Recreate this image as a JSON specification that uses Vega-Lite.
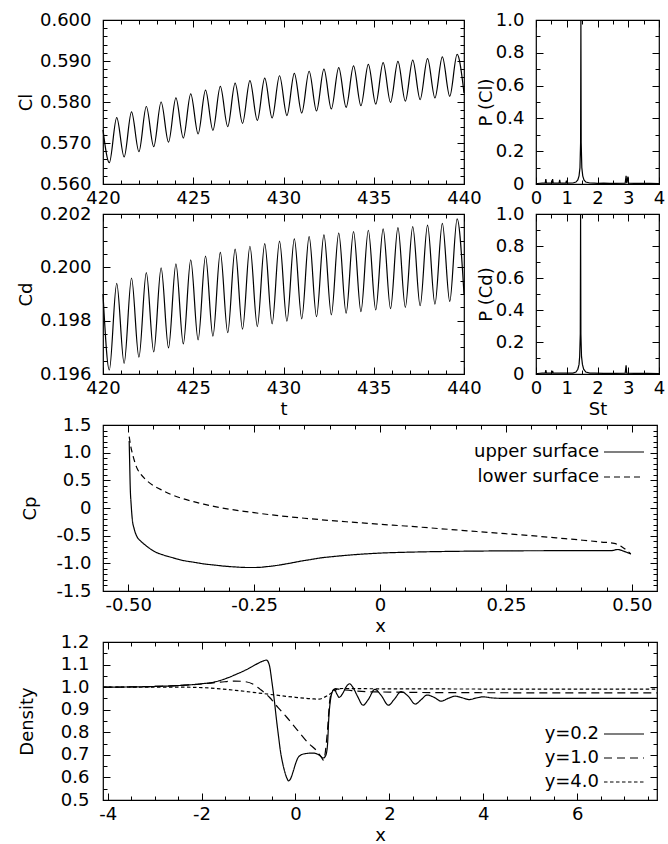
{
  "$schema": "https://vega.github.io/schema/vega-lite/v6.json",
  "padding": {"left": 16, "top": 10, "right": 0, "bottom": 0},
  "config": {
    "font": "DejaVu Sans",
    "view": {"stroke": "black", "strokeWidth": 1.2},
    "axis": {"domain": false, "grid": false, "labelFont": "DejaVu Sans", "labelFontSize": 18, "titleFont": "DejaVu Sans", "titleFontSize": 18, "titleFontWeight": "normal", "labelColor": "black", "titleColor": "black", "tickColor": "black", "tickWidth": 1, "labelFlush": false, "labelOverlap": false},
    "legend": {"labelFont": "DejaVu Sans", "labelFontSize": 18, "labelColor": "black"}
  },
  "resolve": {"scale": {"strokeDash": "independent"}, "legend": {"strokeDash": "independent"}},
  "spacing": -4,
  "datasets": {
    "cl": [
      {"t": 420.0, "v": 0.5732}, {"t": 420.35, "v": 0.5652}, {"t": 420.76, "v": 0.5762}, {"t": 421.17, "v": 0.5666},
      {"t": 421.58, "v": 0.5776}, {"t": 421.99, "v": 0.5679}, {"t": 422.40, "v": 0.5789}, {"t": 422.81, "v": 0.5691},
      {"t": 423.22, "v": 0.5800}, {"t": 423.63, "v": 0.5702}, {"t": 424.04, "v": 0.5810}, {"t": 424.45, "v": 0.5712},
      {"t": 424.86, "v": 0.5820}, {"t": 425.27, "v": 0.5722}, {"t": 425.68, "v": 0.5829}, {"t": 426.09, "v": 0.5731},
      {"t": 426.50, "v": 0.5838}, {"t": 426.91, "v": 0.5740}, {"t": 427.32, "v": 0.5846}, {"t": 427.73, "v": 0.5748},
      {"t": 428.14, "v": 0.5852}, {"t": 428.55, "v": 0.5755}, {"t": 428.96, "v": 0.5858}, {"t": 429.37, "v": 0.5761},
      {"t": 429.78, "v": 0.5864}, {"t": 430.19, "v": 0.5767}, {"t": 430.60, "v": 0.5870}, {"t": 431.01, "v": 0.5773},
      {"t": 431.42, "v": 0.5875}, {"t": 431.83, "v": 0.5778}, {"t": 432.24, "v": 0.5880}, {"t": 432.65, "v": 0.5783},
      {"t": 433.06, "v": 0.5884}, {"t": 433.47, "v": 0.5787}, {"t": 433.88, "v": 0.5888}, {"t": 434.29, "v": 0.5791},
      {"t": 434.70, "v": 0.5892}, {"t": 435.11, "v": 0.5795}, {"t": 435.52, "v": 0.5896}, {"t": 435.93, "v": 0.5799},
      {"t": 436.34, "v": 0.5899}, {"t": 436.75, "v": 0.5802}, {"t": 437.16, "v": 0.5902}, {"t": 437.57, "v": 0.5806},
      {"t": 437.98, "v": 0.5906}, {"t": 438.39, "v": 0.5810}, {"t": 438.80, "v": 0.5910}, {"t": 439.21, "v": 0.5814},
      {"t": 439.62, "v": 0.5916}, {"t": 440.0, "v": 0.5822}
    ],
    "cd": [
      {"t": 420.0, "v": 0.1990}, {"t": 420.35, "v": 0.19615}, {"t": 420.76, "v": 0.1994}, {"t": 421.17, "v": 0.1964},
      {"t": 421.58, "v": 0.1996}, {"t": 421.99, "v": 0.19663}, {"t": 422.40, "v": 0.1998}, {"t": 422.81, "v": 0.19683},
      {"t": 423.22, "v": 0.19998}, {"t": 423.63, "v": 0.19698}, {"t": 424.04, "v": 0.20013}, {"t": 424.45, "v": 0.19713},
      {"t": 424.86, "v": 0.20028}, {"t": 425.27, "v": 0.19728}, {"t": 425.68, "v": 0.20042}, {"t": 426.09, "v": 0.19742},
      {"t": 426.50, "v": 0.20056}, {"t": 426.91, "v": 0.19755}, {"t": 427.32, "v": 0.20068}, {"t": 427.73, "v": 0.19768},
      {"t": 428.14, "v": 0.20079}, {"t": 428.55, "v": 0.19778}, {"t": 428.96, "v": 0.20089}, {"t": 429.37, "v": 0.19788},
      {"t": 429.78, "v": 0.20098}, {"t": 430.19, "v": 0.19798}, {"t": 430.60, "v": 0.20107}, {"t": 431.01, "v": 0.19807},
      {"t": 431.42, "v": 0.20115}, {"t": 431.83, "v": 0.19815}, {"t": 432.24, "v": 0.20122}, {"t": 432.65, "v": 0.19822},
      {"t": 433.06, "v": 0.20128}, {"t": 433.47, "v": 0.19828}, {"t": 433.88, "v": 0.20134}, {"t": 434.29, "v": 0.19834},
      {"t": 434.70, "v": 0.20139}, {"t": 435.11, "v": 0.19840}, {"t": 435.52, "v": 0.20144}, {"t": 435.93, "v": 0.19845},
      {"t": 436.34, "v": 0.20149}, {"t": 436.75, "v": 0.19850}, {"t": 437.16, "v": 0.20153}, {"t": 437.57, "v": 0.19856},
      {"t": 437.98, "v": 0.20158}, {"t": 438.39, "v": 0.19862}, {"t": 438.80, "v": 0.20165}, {"t": 439.21, "v": 0.19872},
      {"t": 439.62, "v": 0.20182}, {"t": 440.0, "v": 0.1990}
    ],
    "pcl": [
      {"st": 0.0, "p": 0.0}, {"st": 0.05, "p": 0.003}, {"st": 0.2, "p": 0.005}, {"st": 0.3, "p": 0.005},
      {"st": 0.32, "p": 0.03}, {"st": 0.34, "p": 0.005}, {"st": 0.52, "p": 0.005}, {"st": 0.54, "p": 0.03},
      {"st": 0.56, "p": 0.005}, {"st": 0.75, "p": 0.005}, {"st": 0.77, "p": 0.025}, {"st": 0.79, "p": 0.005},
      {"st": 0.97, "p": 0.005}, {"st": 0.99, "p": 0.02}, {"st": 1.01, "p": 0.005}, {"st": 1.2, "p": 0.006},
      {"st": 1.3, "p": 0.012}, {"st": 1.36, "p": 0.025}, {"st": 1.4, "p": 0.05}, {"st": 1.43, "p": 0.1},
      {"st": 1.45, "p": 0.25}, {"st": 1.46, "p": 1.0}, {"st": 1.47, "p": 0.25}, {"st": 1.49, "p": 0.1},
      {"st": 1.52, "p": 0.05}, {"st": 1.56, "p": 0.025}, {"st": 1.62, "p": 0.012}, {"st": 1.75, "p": 0.006},
      {"st": 1.9, "p": 0.005}, {"st": 2.0, "p": 0.004}, {"st": 2.2, "p": 0.005}, {"st": 2.4, "p": 0.004},
      {"st": 2.6, "p": 0.004}, {"st": 2.9, "p": 0.005}, {"st": 2.93, "p": 0.05}, {"st": 2.95, "p": 0.005},
      {"st": 2.99, "p": 0.045}, {"st": 3.01, "p": 0.005}, {"st": 3.2, "p": 0.004}, {"st": 3.5, "p": 0.004},
      {"st": 3.7, "p": 0.004}, {"st": 4.0, "p": 0.003}
    ],
    "pcd": [
      {"st": 0.0, "p": 0.0}, {"st": 0.05, "p": 0.003}, {"st": 0.2, "p": 0.005}, {"st": 0.3, "p": 0.005},
      {"st": 0.32, "p": 0.025}, {"st": 0.34, "p": 0.005}, {"st": 0.52, "p": 0.005}, {"st": 0.54, "p": 0.02},
      {"st": 0.56, "p": 0.005}, {"st": 0.97, "p": 0.005}, {"st": 1.2, "p": 0.006},
      {"st": 1.3, "p": 0.012}, {"st": 1.36, "p": 0.03}, {"st": 1.4, "p": 0.06}, {"st": 1.42, "p": 0.11},
      {"st": 1.44, "p": 0.25}, {"st": 1.45, "p": 1.0}, {"st": 1.46, "p": 0.25}, {"st": 1.48, "p": 0.11},
      {"st": 1.51, "p": 0.06}, {"st": 1.55, "p": 0.03}, {"st": 1.62, "p": 0.012}, {"st": 1.75, "p": 0.006},
      {"st": 1.9, "p": 0.005}, {"st": 2.2, "p": 0.004}, {"st": 2.6, "p": 0.004}, {"st": 2.9, "p": 0.005},
      {"st": 2.93, "p": 0.055}, {"st": 2.95, "p": 0.005}, {"st": 3.2, "p": 0.004}, {"st": 3.6, "p": 0.004},
      {"st": 4.0, "p": 0.003}
    ],
    "cp": [
      {"x": -0.498, "cp": 1.21, "surface": "upper surface"}, {"x": -0.497, "cp": 0.8, "surface": "upper surface"},
      {"x": -0.496, "cp": 0.4, "surface": "upper surface"}, {"x": -0.494, "cp": 0.05, "surface": "upper surface"},
      {"x": -0.492, "cp": -0.19, "surface": "upper surface"}, {"x": -0.488, "cp": -0.38, "surface": "upper surface"},
      {"x": -0.483, "cp": -0.51, "surface": "upper surface"}, {"x": -0.475, "cp": -0.6, "surface": "upper surface"},
      {"x": -0.466, "cp": -0.67, "surface": "upper surface"}, {"x": -0.449, "cp": -0.78, "surface": "upper surface"},
      {"x": -0.43, "cp": -0.85, "surface": "upper surface"}, {"x": -0.415, "cp": -0.89, "surface": "upper surface"},
      {"x": -0.39, "cp": -0.95, "surface": "upper surface"}, {"x": -0.37, "cp": -0.98, "surface": "upper surface"},
      {"x": -0.35, "cp": -1.01, "surface": "upper surface"}, {"x": -0.33, "cp": -1.03, "surface": "upper surface"},
      {"x": -0.31, "cp": -1.05, "surface": "upper surface"}, {"x": -0.288, "cp": -1.065, "surface": "upper surface"},
      {"x": -0.265, "cp": -1.075, "surface": "upper surface"}, {"x": -0.246, "cp": -1.075, "surface": "upper surface"},
      {"x": -0.225, "cp": -1.06, "surface": "upper surface"}, {"x": -0.203, "cp": -1.035, "surface": "upper surface"},
      {"x": -0.18, "cp": -1.0, "surface": "upper surface"}, {"x": -0.16, "cp": -0.965, "surface": "upper surface"},
      {"x": -0.14, "cp": -0.935, "surface": "upper surface"}, {"x": -0.12, "cp": -0.905, "surface": "upper surface"},
      {"x": -0.09, "cp": -0.875, "surface": "upper surface"}, {"x": -0.06, "cp": -0.85, "surface": "upper surface"},
      {"x": -0.03, "cp": -0.83, "surface": "upper surface"}, {"x": 0.0, "cp": -0.815, "surface": "upper surface"},
      {"x": 0.05, "cp": -0.8, "surface": "upper surface"}, {"x": 0.1, "cp": -0.79, "surface": "upper surface"},
      {"x": 0.15, "cp": -0.783, "surface": "upper surface"}, {"x": 0.2, "cp": -0.778, "surface": "upper surface"},
      {"x": 0.26, "cp": -0.774, "surface": "upper surface"}, {"x": 0.35, "cp": -0.772, "surface": "upper surface"},
      {"x": 0.43, "cp": -0.772, "surface": "upper surface"}, {"x": 0.46, "cp": -0.77, "surface": "upper surface"},
      {"x": 0.472, "cp": -0.75, "surface": "upper surface"}, {"x": 0.485, "cp": -0.785, "surface": "upper surface"},
      {"x": 0.498, "cp": -0.83, "surface": "upper surface"},
      {"x": -0.498, "cp": 1.29, "surface": "lower surface"}, {"x": -0.495, "cp": 1.12, "surface": "lower surface"},
      {"x": -0.49, "cp": 0.93, "surface": "lower surface"}, {"x": -0.483, "cp": 0.73, "surface": "lower surface"},
      {"x": -0.475, "cp": 0.61, "surface": "lower surface"}, {"x": -0.466, "cp": 0.52, "surface": "lower surface"},
      {"x": -0.449, "cp": 0.4, "surface": "lower surface"}, {"x": -0.43, "cp": 0.31, "surface": "lower surface"},
      {"x": -0.415, "cp": 0.245, "surface": "lower surface"}, {"x": -0.39, "cp": 0.165, "surface": "lower surface"},
      {"x": -0.37, "cp": 0.115, "surface": "lower surface"}, {"x": -0.35, "cp": 0.07, "surface": "lower surface"},
      {"x": -0.33, "cp": 0.03, "surface": "lower surface"}, {"x": -0.3, "cp": -0.02, "surface": "lower surface"},
      {"x": -0.27, "cp": -0.06, "surface": "lower surface"}, {"x": -0.25, "cp": -0.085, "surface": "lower surface"},
      {"x": -0.2, "cp": -0.14, "surface": "lower surface"}, {"x": -0.15, "cp": -0.185, "surface": "lower surface"},
      {"x": -0.1, "cp": -0.225, "surface": "lower surface"}, {"x": -0.05, "cp": -0.26, "surface": "lower surface"},
      {"x": 0.0, "cp": -0.295, "surface": "lower surface"}, {"x": 0.05, "cp": -0.325, "surface": "lower surface"},
      {"x": 0.1, "cp": -0.36, "surface": "lower surface"}, {"x": 0.15, "cp": -0.395, "surface": "lower surface"},
      {"x": 0.2, "cp": -0.43, "surface": "lower surface"}, {"x": 0.25, "cp": -0.465, "surface": "lower surface"},
      {"x": 0.3, "cp": -0.5, "surface": "lower surface"}, {"x": 0.35, "cp": -0.54, "surface": "lower surface"},
      {"x": 0.4, "cp": -0.58, "surface": "lower surface"}, {"x": 0.44, "cp": -0.615, "surface": "lower surface"},
      {"x": 0.465, "cp": -0.64, "surface": "lower surface"}, {"x": 0.48, "cp": -0.7, "surface": "lower surface"},
      {"x": 0.498, "cp": -0.83, "surface": "lower surface"}
    ],
    "dens": [
      {"x": -4.1, "d": 1.0, "s": "y=0.2"}, {"x": -3.5, "d": 1.001, "s": "y=0.2"}, {"x": -3.0, "d": 1.003, "s": "y=0.2"},
      {"x": -2.5, "d": 1.007, "s": "y=0.2"}, {"x": -2.0, "d": 1.015, "s": "y=0.2"}, {"x": -1.7, "d": 1.024, "s": "y=0.2"},
      {"x": -1.46, "d": 1.04, "s": "y=0.2"}, {"x": -1.25, "d": 1.058, "s": "y=0.2"}, {"x": -1.1, "d": 1.072, "s": "y=0.2"},
      {"x": -0.95, "d": 1.088, "s": "y=0.2"}, {"x": -0.82, "d": 1.103, "s": "y=0.2"}, {"x": -0.7, "d": 1.115, "s": "y=0.2"},
      {"x": -0.62, "d": 1.12, "s": "y=0.2"}, {"x": -0.56, "d": 1.1, "s": "y=0.2"}, {"x": -0.5, "d": 1.02, "s": "y=0.2"},
      {"x": -0.45, "d": 0.94, "s": "y=0.2"}, {"x": -0.41, "d": 0.865, "s": "y=0.2"}, {"x": -0.36, "d": 0.78, "s": "y=0.2"},
      {"x": -0.32, "d": 0.716, "s": "y=0.2"}, {"x": -0.27, "d": 0.66, "s": "y=0.2"}, {"x": -0.23, "d": 0.626, "s": "y=0.2"},
      {"x": -0.18, "d": 0.595, "s": "y=0.2"}, {"x": -0.15, "d": 0.585, "s": "y=0.2"}, {"x": -0.11, "d": 0.592, "s": "y=0.2"},
      {"x": -0.05, "d": 0.626, "s": "y=0.2"}, {"x": 0.0, "d": 0.66, "s": "y=0.2"}, {"x": 0.05, "d": 0.686, "s": "y=0.2"},
      {"x": 0.12, "d": 0.7, "s": "y=0.2"}, {"x": 0.2, "d": 0.705, "s": "y=0.2"}, {"x": 0.37, "d": 0.708, "s": "y=0.2"},
      {"x": 0.5, "d": 0.7, "s": "y=0.2"}, {"x": 0.59, "d": 0.686, "s": "y=0.2"}, {"x": 0.64, "d": 0.695, "s": "y=0.2"},
      {"x": 0.68, "d": 0.74, "s": "y=0.2"}, {"x": 0.71, "d": 0.865, "s": "y=0.2"}, {"x": 0.75, "d": 0.95, "s": "y=0.2"},
      {"x": 0.78, "d": 0.977, "s": "y=0.2"}, {"x": 0.83, "d": 0.99, "s": "y=0.2"}, {"x": 0.88, "d": 0.97, "s": "y=0.2"},
      {"x": 0.93, "d": 0.955, "s": "y=0.2"}, {"x": 1.0, "d": 0.97, "s": "y=0.2"}, {"x": 1.07, "d": 0.998, "s": "y=0.2"},
      {"x": 1.15, "d": 1.015, "s": "y=0.2"}, {"x": 1.22, "d": 1.0, "s": "y=0.2"}, {"x": 1.32, "d": 0.96, "s": "y=0.2"},
      {"x": 1.44, "d": 0.92, "s": "y=0.2"}, {"x": 1.55, "d": 0.945, "s": "y=0.2"}, {"x": 1.69, "d": 0.99, "s": "y=0.2"},
      {"x": 1.82, "d": 0.965, "s": "y=0.2"}, {"x": 1.98, "d": 0.92, "s": "y=0.2"}, {"x": 2.1, "d": 0.945, "s": "y=0.2"},
      {"x": 2.25, "d": 0.98, "s": "y=0.2"}, {"x": 2.4, "d": 0.96, "s": "y=0.2"}, {"x": 2.55, "d": 0.925, "s": "y=0.2"},
      {"x": 2.68, "d": 0.945, "s": "y=0.2"}, {"x": 2.8, "d": 0.965, "s": "y=0.2"}, {"x": 2.95, "d": 0.955, "s": "y=0.2"},
      {"x": 3.1, "d": 0.938, "s": "y=0.2"}, {"x": 3.25, "d": 0.95, "s": "y=0.2"}, {"x": 3.4, "d": 0.96, "s": "y=0.2"},
      {"x": 3.55, "d": 0.953, "s": "y=0.2"}, {"x": 3.7, "d": 0.945, "s": "y=0.2"}, {"x": 3.85, "d": 0.952, "s": "y=0.2"},
      {"x": 4.0, "d": 0.957, "s": "y=0.2"}, {"x": 4.2, "d": 0.952, "s": "y=0.2"}, {"x": 4.5, "d": 0.95, "s": "y=0.2"},
      {"x": 5.0, "d": 0.95, "s": "y=0.2"}, {"x": 6.0, "d": 0.95, "s": "y=0.2"}, {"x": 7.0, "d": 0.95, "s": "y=0.2"},
      {"x": 7.7, "d": 0.95, "s": "y=0.2"},
      {"x": -4.1, "d": 1.0, "s": "y=1.0"}, {"x": -3.0, "d": 1.003, "s": "y=1.0"}, {"x": -2.5, "d": 1.007, "s": "y=1.0"},
      {"x": -2.0, "d": 1.014, "s": "y=1.0"}, {"x": -1.6, "d": 1.022, "s": "y=1.0"}, {"x": -1.3, "d": 1.027, "s": "y=1.0"},
      {"x": -1.1, "d": 1.025, "s": "y=1.0"}, {"x": -0.91, "d": 1.014, "s": "y=1.0"}, {"x": -0.75, "d": 0.99, "s": "y=1.0"},
      {"x": -0.55, "d": 0.954, "s": "y=1.0"}, {"x": -0.37, "d": 0.909, "s": "y=1.0"}, {"x": -0.2, "d": 0.87, "s": "y=1.0"},
      {"x": 0.0, "d": 0.82, "s": "y=1.0"}, {"x": 0.27, "d": 0.753, "s": "y=1.0"}, {"x": 0.46, "d": 0.716, "s": "y=1.0"},
      {"x": 0.55, "d": 0.69, "s": "y=1.0"}, {"x": 0.6, "d": 0.676, "s": "y=1.0"}, {"x": 0.64, "d": 0.72, "s": "y=1.0"},
      {"x": 0.68, "d": 0.805, "s": "y=1.0"}, {"x": 0.73, "d": 0.94, "s": "y=1.0"}, {"x": 0.78, "d": 0.98, "s": "y=1.0"},
      {"x": 0.85, "d": 0.993, "s": "y=1.0"}, {"x": 0.95, "d": 0.99, "s": "y=1.0"}, {"x": 1.2, "d": 0.985, "s": "y=1.0"},
      {"x": 1.5, "d": 0.98, "s": "y=1.0"}, {"x": 2.0, "d": 0.978, "s": "y=1.0"}, {"x": 3.0, "d": 0.976, "s": "y=1.0"},
      {"x": 5.0, "d": 0.975, "s": "y=1.0"}, {"x": 7.7, "d": 0.975, "s": "y=1.0"},
      {"x": -4.1, "d": 1.0, "s": "y=4.0"}, {"x": -2.5, "d": 1.0, "s": "y=4.0"}, {"x": -2.0, "d": 0.998, "s": "y=4.0"},
      {"x": -1.28, "d": 0.986, "s": "y=4.0"}, {"x": -0.55, "d": 0.968, "s": "y=4.0"}, {"x": 0.0, "d": 0.955, "s": "y=4.0"},
      {"x": 0.37, "d": 0.948, "s": "y=4.0"}, {"x": 0.5, "d": 0.947, "s": "y=4.0"}, {"x": 0.64, "d": 0.958, "s": "y=4.0"},
      {"x": 0.78, "d": 0.976, "s": "y=4.0"}, {"x": 0.88, "d": 0.99, "s": "y=4.0"}, {"x": 1.0, "d": 0.994, "s": "y=4.0"},
      {"x": 1.5, "d": 0.993, "s": "y=4.0"}, {"x": 3.0, "d": 0.992, "s": "y=4.0"}, {"x": 7.7, "d": 0.991, "s": "y=4.0"}
    ]
  },
  "vconcat": [
    {
      "hconcat": [
        {
          "width": 361, "height": 164,
          "data": {"name": "cl"},
          "layer": [
            {"mark": {"type": "line", "color": "black", "strokeWidth": 1.2, "interpolate": "monotone"},
             "encoding": {
               "x": {"field": "t", "type": "quantitative", "scale": {"domain": [420, 440], "nice": false, "zero": false}, "axis": {"orient": "bottom", "values": [420, 425, 430, 435, 440], "format": "d", "ticks": false, "labelPadding": 5, "title": null}},
               "y": {"field": "v", "type": "quantitative", "scale": {"domain": [0.56, 0.6], "nice": false, "zero": false}, "axis": {"orient": "left", "values": [0.56, 0.57, 0.58, 0.59, 0.6], "format": ".3f", "ticks": false, "labelPadding": 12, "title": "Cl", "titleX": -68}}}},
            {"mark": {"type": "point", "opacity": 0},
             "encoding": {
               "x": {"field": "t", "type": "quantitative", "axis": {"orient": "bottom", "values": [420, 425, 430, 435, 440], "labels": false, "tickSize": -7, "title": null}},
               "y": {"field": "v", "type": "quantitative", "axis": {"orient": "left", "values": [0.56, 0.57, 0.58, 0.59, 0.6], "labels": false, "tickSize": -7, "title": null}}}},
            {"mark": {"type": "point", "opacity": 0},
             "encoding": {
               "x": {"field": "t", "type": "quantitative", "axis": {"orient": "top", "values": [420, 425, 430, 435, 440], "labels": false, "tickSize": -7, "title": null}},
               "y": {"field": "v", "type": "quantitative", "axis": {"orient": "right", "values": [0.56, 0.57, 0.58, 0.59, 0.6], "labels": false, "tickSize": -7, "title": null}}}},
            {"mark": {"type": "point", "opacity": 0},
             "encoding": {
               "x": {"field": "t", "type": "quantitative", "axis": {"orient": "bottom", "values": [421, 422, 423, 424, 426, 427, 428, 429, 431, 432, 433, 434, 436, 437, 438, 439], "labels": false, "tickSize": -4, "title": null}},
               "y": {"field": "v", "type": "quantitative", "axis": {"orient": "left", "values": [0.562, 0.564, 0.566, 0.568, 0.572, 0.574, 0.576, 0.578, 0.582, 0.584, 0.586, 0.588, 0.592, 0.594, 0.596, 0.598], "labels": false, "tickSize": -4, "title": null}}}},
            {"mark": {"type": "point", "opacity": 0},
             "encoding": {
               "x": {"field": "t", "type": "quantitative", "axis": {"orient": "top", "values": [421, 422, 423, 424, 426, 427, 428, 429, 431, 432, 433, 434, 436, 437, 438, 439], "labels": false, "tickSize": -4, "title": null}},
               "y": {"field": "v", "type": "quantitative", "axis": {"orient": "right", "values": [0.562, 0.564, 0.566, 0.568, 0.572, 0.574, 0.576, 0.578, 0.582, 0.584, 0.586, 0.588, 0.592, 0.594, 0.596, 0.598], "labels": false, "tickSize": -4, "title": null}}}}
          ],
          "resolve": {"axis": {"x": "independent", "y": "independent"}}
        },
        {
          "width": 123, "height": 164,
          "data": {"name": "pcl"},
          "layer": [
            {"mark": {"type": "line", "color": "black", "strokeWidth": 1.2},
             "encoding": {
               "x": {"field": "st", "type": "quantitative", "scale": {"domain": [0, 4], "nice": false, "zero": false}, "axis": {"orient": "bottom", "values": [0, 1, 2, 3, 4], "format": "d", "ticks": false, "labelPadding": 5, "title": null}},
               "y": {"field": "p", "type": "quantitative", "scale": {"domain": [0, 1], "nice": false, "zero": false}, "axis": {"orient": "left", "values": [0, 0.2, 0.4, 0.6, 0.8, 1], "labelExpr": "datum.value == 0 ? '0' : format(datum.value, '.1f')", "ticks": false, "labelPadding": 12, "title": "P (Cl)", "titleX": -41}}}},
            {"mark": {"type": "point", "opacity": 0},
             "encoding": {
               "x": {"field": "st", "type": "quantitative", "axis": {"orient": "bottom", "values": [0, 1, 2, 3, 4], "labels": false, "tickSize": -7, "title": null}},
               "y": {"field": "p", "type": "quantitative", "axis": {"orient": "left", "values": [0, 0.2, 0.4, 0.6, 0.8, 1], "labels": false, "tickSize": -7, "title": null}}}},
            {"mark": {"type": "point", "opacity": 0},
             "encoding": {
               "x": {"field": "st", "type": "quantitative", "axis": {"orient": "top", "values": [0, 1, 2, 3, 4], "labels": false, "tickSize": -7, "title": null}},
               "y": {"field": "p", "type": "quantitative", "axis": {"orient": "right", "values": [0, 0.2, 0.4, 0.6, 0.8, 1], "labels": false, "tickSize": -7, "title": null}}}},
            {"mark": {"type": "point", "opacity": 0},
             "encoding": {
               "x": {"field": "st", "type": "quantitative", "axis": {"orient": "bottom", "values": [0.5, 1.5, 2.5, 3.5], "labels": false, "tickSize": -4, "title": null}},
               "y": {"field": "p", "type": "quantitative", "axis": {"orient": "left", "values": [0.1, 0.3, 0.5, 0.7, 0.9], "labels": false, "tickSize": -4, "title": null}}}},
            {"mark": {"type": "point", "opacity": 0},
             "encoding": {
               "x": {"field": "st", "type": "quantitative", "axis": {"orient": "top", "values": [0.5, 1.5, 2.5, 3.5], "labels": false, "tickSize": -4, "title": null}},
               "y": {"field": "p", "type": "quantitative", "axis": {"orient": "right", "values": [0.1, 0.3, 0.5, 0.7, 0.9], "labels": false, "tickSize": -4, "title": null}}}}
          ],
          "resolve": {"axis": {"x": "independent", "y": "independent"}}
        }
      ],
      "spacing": 72,
      "bounds": "flush"
    },
    {
      "hconcat": [
        {
          "width": 361, "height": 160,
          "data": {"name": "cd"},
          "layer": [
            {"mark": {"type": "line", "color": "black", "strokeWidth": 1.2, "interpolate": "monotone"},
             "encoding": {
               "x": {"field": "t", "type": "quantitative", "scale": {"domain": [420, 440], "nice": false, "zero": false}, "axis": {"orient": "bottom", "values": [420, 425, 430, 435, 440], "format": "d", "ticks": false, "labelPadding": 5, "title": "t", "titlePadding": 3}},
               "y": {"field": "v", "type": "quantitative", "scale": {"domain": [0.196, 0.202], "nice": false, "zero": false}, "axis": {"orient": "left", "values": [0.196, 0.198, 0.2, 0.202], "format": ".3f", "ticks": false, "labelPadding": 12, "title": "Cd", "titleX": -68}}}},
            {"mark": {"type": "point", "opacity": 0},
             "encoding": {
               "x": {"field": "t", "type": "quantitative", "axis": {"orient": "bottom", "values": [420, 425, 430, 435, 440], "labels": false, "tickSize": -7, "title": null}},
               "y": {"field": "v", "type": "quantitative", "axis": {"orient": "left", "values": [0.196, 0.198, 0.2, 0.202], "labels": false, "tickSize": -7, "title": null}}}},
            {"mark": {"type": "point", "opacity": 0},
             "encoding": {
               "x": {"field": "t", "type": "quantitative", "axis": {"orient": "top", "values": [420, 425, 430, 435, 440], "labels": false, "tickSize": -7, "title": null}},
               "y": {"field": "v", "type": "quantitative", "axis": {"orient": "right", "values": [0.196, 0.198, 0.2, 0.202], "labels": false, "tickSize": -7, "title": null}}}},
            {"mark": {"type": "point", "opacity": 0},
             "encoding": {
               "x": {"field": "t", "type": "quantitative", "axis": {"orient": "bottom", "values": [421, 422, 423, 424, 426, 427, 428, 429, 431, 432, 433, 434, 436, 437, 438, 439], "labels": false, "tickSize": -4, "title": null}},
               "y": {"field": "v", "type": "quantitative", "axis": {"orient": "left", "values": [0.1965, 0.197, 0.1975, 0.1985, 0.199, 0.1995, 0.2005, 0.201, 0.2015], "labels": false, "tickSize": -4, "title": null}}}},
            {"mark": {"type": "point", "opacity": 0},
             "encoding": {
               "x": {"field": "t", "type": "quantitative", "axis": {"orient": "top", "values": [421, 422, 423, 424, 426, 427, 428, 429, 431, 432, 433, 434, 436, 437, 438, 439], "labels": false, "tickSize": -4, "title": null}},
               "y": {"field": "v", "type": "quantitative", "axis": {"orient": "right", "values": [0.1965, 0.197, 0.1975, 0.1985, 0.199, 0.1995, 0.2005, 0.201, 0.2015], "labels": false, "tickSize": -4, "title": null}}}}
          ],
          "resolve": {"axis": {"x": "independent", "y": "independent"}}
        },
        {
          "width": 123, "height": 160,
          "data": {"name": "pcd"},
          "layer": [
            {"mark": {"type": "line", "color": "black", "strokeWidth": 1.2},
             "encoding": {
               "x": {"field": "st", "type": "quantitative", "scale": {"domain": [0, 4], "nice": false, "zero": false}, "axis": {"orient": "bottom", "values": [0, 1, 2, 3, 4], "format": "d", "ticks": false, "labelPadding": 5, "title": "St", "titlePadding": 3}},
               "y": {"field": "p", "type": "quantitative", "scale": {"domain": [0, 1], "nice": false, "zero": false}, "axis": {"orient": "left", "values": [0, 0.2, 0.4, 0.6, 0.8, 1], "labelExpr": "datum.value == 0 ? '0' : format(datum.value, '.1f')", "ticks": false, "labelPadding": 12, "title": "P (Cd)", "titleX": -41}}}},
            {"mark": {"type": "point", "opacity": 0},
             "encoding": {
               "x": {"field": "st", "type": "quantitative", "axis": {"orient": "bottom", "values": [0, 1, 2, 3, 4], "labels": false, "tickSize": -7, "title": null}},
               "y": {"field": "p", "type": "quantitative", "axis": {"orient": "left", "values": [0, 0.2, 0.4, 0.6, 0.8, 1], "labels": false, "tickSize": -7, "title": null}}}},
            {"mark": {"type": "point", "opacity": 0},
             "encoding": {
               "x": {"field": "st", "type": "quantitative", "axis": {"orient": "top", "values": [0, 1, 2, 3, 4], "labels": false, "tickSize": -7, "title": null}},
               "y": {"field": "p", "type": "quantitative", "axis": {"orient": "right", "values": [0, 0.2, 0.4, 0.6, 0.8, 1], "labels": false, "tickSize": -7, "title": null}}}},
            {"mark": {"type": "point", "opacity": 0},
             "encoding": {
               "x": {"field": "st", "type": "quantitative", "axis": {"orient": "bottom", "values": [0.5, 1.5, 2.5, 3.5], "labels": false, "tickSize": -4, "title": null}},
               "y": {"field": "p", "type": "quantitative", "axis": {"orient": "left", "values": [0.1, 0.3, 0.5, 0.7, 0.9], "labels": false, "tickSize": -4, "title": null}}}},
            {"mark": {"type": "point", "opacity": 0},
             "encoding": {
               "x": {"field": "st", "type": "quantitative", "axis": {"orient": "top", "values": [0.5, 1.5, 2.5, 3.5], "labels": false, "tickSize": -4, "title": null}},
               "y": {"field": "p", "type": "quantitative", "axis": {"orient": "right", "values": [0.1, 0.3, 0.5, 0.7, 0.9], "labels": false, "tickSize": -4, "title": null}}}}
          ],
          "resolve": {"axis": {"x": "independent", "y": "independent"}}
        }
      ],
      "spacing": 72,
      "bounds": "flush"
    },
    {
      "width": 554, "height": 166,
      "data": {"name": "cp"},
      "layer": [
        {"mark": {"type": "line", "color": "black", "strokeWidth": 1.2, "interpolate": "monotone"},
         "encoding": {
           "x": {"field": "x", "type": "quantitative", "scale": {"domain": [-0.55, 0.55], "nice": false, "zero": false}, "axis": {"orient": "bottom", "values": [-0.5, -0.25, 0, 0.25, 0.5], "labelExpr": "datum.value == 0 ? '0' : (datum.value < 0 ? '-' + format(-datum.value, '.2f') : format(datum.value, '.2f'))", "ticks": false, "labelPadding": 5, "title": "x", "titlePadding": 3}},
           "y": {"field": "cp", "type": "quantitative", "scale": {"domain": [-1.5, 1.5], "nice": false, "zero": false}, "axis": {"orient": "left", "values": [-1.5, -1, -0.5, 0, 0.5, 1, 1.5], "labelExpr": "datum.value == 0 ? '0' : (datum.value < 0 ? '-' + format(-datum.value, '.1f') : format(datum.value, '.1f'))", "ticks": false, "labelPadding": 12, "title": "Cp", "titleX": -64}},
           "strokeDash": {"field": "surface", "type": "nominal", "scale": {"domain": ["upper surface", "lower surface"], "range": [[1, 0], [6, 4]]},
             "legend": {"orient": "none", "legendX": 512, "legendY": 18, "title": null, "symbolType": "M-4,0H4", "symbolSize": 100, "symbolStrokeColor": "black", "symbolStrokeWidth": 1.2, "symbolFillColor": "transparent", "labelAlign": "right", "labelOffset": -34, "labelFontSize": 18, "rowPadding": 7, "padding": 0}}}},
        {"mark": {"type": "point", "opacity": 0},
         "encoding": {
           "x": {"field": "x", "type": "quantitative", "axis": {"orient": "bottom", "values": [-0.5, -0.25, 0, 0.25, 0.5], "labels": false, "tickSize": -7, "title": null}},
           "y": {"field": "cp", "type": "quantitative", "axis": {"orient": "left", "values": [-1.5, -1, -0.5, 0, 0.5, 1, 1.5], "labels": false, "tickSize": -7, "title": null}}}},
        {"mark": {"type": "point", "opacity": 0},
         "encoding": {
           "x": {"field": "x", "type": "quantitative", "axis": {"orient": "top", "values": [-0.5, -0.25, 0, 0.25, 0.5], "labels": false, "tickSize": -7, "title": null}},
           "y": {"field": "cp", "type": "quantitative", "axis": {"orient": "right", "values": [-1.5, -1, -0.5, 0, 0.5, 1, 1.5], "labels": false, "tickSize": -7, "title": null}}}},
        {"mark": {"type": "point", "opacity": 0},
         "encoding": {
           "x": {"field": "x", "type": "quantitative", "axis": {"orient": "bottom", "values": [-0.45, -0.4, -0.35, -0.3, -0.2, -0.15, -0.1, -0.05, 0.05, 0.1, 0.15, 0.2, 0.3, 0.35, 0.4, 0.45], "labels": false, "tickSize": -4, "title": null}},
           "y": {"field": "cp", "type": "quantitative", "axis": {"orient": "left", "values": [-1.4, -1.3, -1.2, -1.1, -0.9, -0.8, -0.7, -0.6, -0.4, -0.3, -0.2, -0.1, 0.1, 0.2, 0.3, 0.4, 0.6, 0.7, 0.8, 0.9, 1.1, 1.2, 1.3, 1.4], "labels": false, "tickSize": -4, "title": null}}}},
        {"mark": {"type": "point", "opacity": 0},
         "encoding": {
           "x": {"field": "x", "type": "quantitative", "axis": {"orient": "top", "values": [-0.45, -0.4, -0.35, -0.3, -0.2, -0.15, -0.1, -0.05, 0.05, 0.1, 0.15, 0.2, 0.3, 0.35, 0.4, 0.45], "labels": false, "tickSize": -4, "title": null}},
           "y": {"field": "cp", "type": "quantitative", "axis": {"orient": "right", "values": [-1.4, -1.3, -1.2, -1.1, -0.9, -0.8, -0.7, -0.6, -0.4, -0.3, -0.2, -0.1, 0.1, 0.2, 0.3, 0.4, 0.6, 0.7, 0.8, 0.9, 1.1, 1.2, 1.3, 1.4], "labels": false, "tickSize": -4, "title": null}}}}
      ],
      "resolve": {"axis": {"x": "independent", "y": "independent"}}
    },
    {
      "width": 554, "height": 158,
      "data": {"name": "dens"},
      "layer": [
        {"mark": {"type": "line", "color": "black", "strokeWidth": 1.2, "interpolate": "monotone"},
         "encoding": {
           "x": {"field": "x", "type": "quantitative", "scale": {"domain": [-4.1, 7.7], "nice": false, "zero": false}, "axis": {"orient": "bottom", "values": [-4, -2, 0, 2, 4, 6], "labelExpr": "datum.value < 0 ? '-' + format(-datum.value, 'd') : format(datum.value, 'd')", "ticks": false, "labelPadding": 5, "title": "x", "titlePadding": 3}},
           "y": {"field": "d", "type": "quantitative", "scale": {"domain": [0.5, 1.2], "nice": false, "zero": false}, "axis": {"orient": "left", "values": [0.5, 0.6, 0.7, 0.8, 0.9, 1.0, 1.1, 1.2], "format": ".1f", "ticks": false, "labelPadding": 14, "title": "Density", "titleX": -67}},
           "strokeDash": {"field": "s", "type": "nominal", "scale": {"domain": ["y=0.2", "y=1.0", "y=4.0"], "range": [[1, 0], [8, 5], [3.5, 2.5]]},
             "legend": {"orient": "none", "legendX": 512, "legendY": 83, "title": null, "symbolType": "M-4,0H4", "symbolSize": 100, "symbolStrokeColor": "black", "symbolStrokeWidth": 1.2, "symbolFillColor": "transparent", "labelAlign": "right", "labelOffset": -34, "labelFontSize": 18, "rowPadding": 6, "padding": 0}}}},
        {"mark": {"type": "point", "opacity": 0},
         "encoding": {
           "x": {"field": "x", "type": "quantitative", "axis": {"orient": "bottom", "values": [-4, -2, 0, 2, 4, 6], "labels": false, "tickSize": -7, "title": null}},
           "y": {"field": "d", "type": "quantitative", "axis": {"orient": "left", "values": [0.5, 0.6, 0.7, 0.8, 0.9, 1.0, 1.1, 1.2], "labels": false, "tickSize": -7, "title": null}}}},
        {"mark": {"type": "point", "opacity": 0},
         "encoding": {
           "x": {"field": "x", "type": "quantitative", "axis": {"orient": "top", "values": [-4, -2, 0, 2, 4, 6], "labels": false, "tickSize": -7, "title": null}},
           "y": {"field": "d", "type": "quantitative", "axis": {"orient": "right", "values": [0.5, 0.6, 0.7, 0.8, 0.9, 1.0, 1.1, 1.2], "labels": false, "tickSize": -7, "title": null}}}},
        {"mark": {"type": "point", "opacity": 0},
         "encoding": {
           "x": {"field": "x", "type": "quantitative", "axis": {"orient": "bottom", "values": [-3.5, -3, -2.5, -1.5, -1, -0.5, 0.5, 1, 1.5, 2.5, 3, 3.5, 4.5, 5, 5.5, 6.5, 7, 7.5], "labels": false, "tickSize": -4, "title": null}},
           "y": {"field": "d", "type": "quantitative", "axis": {"orient": "left", "values": [0.55, 0.65, 0.75, 0.85, 0.95, 1.05, 1.15], "labels": false, "tickSize": -4, "title": null}}}},
        {"mark": {"type": "point", "opacity": 0},
         "encoding": {
           "x": {"field": "x", "type": "quantitative", "axis": {"orient": "top", "values": [-3.5, -3, -2.5, -1.5, -1, -0.5, 0.5, 1, 1.5, 2.5, 3, 3.5, 4.5, 5, 5.5, 6.5, 7, 7.5], "labels": false, "tickSize": -4, "title": null}},
           "y": {"field": "d", "type": "quantitative", "axis": {"orient": "right", "values": [0.55, 0.65, 0.75, 0.85, 0.95, 1.05, 1.15], "labels": false, "tickSize": -4, "title": null}}}}
      ],
      "resolve": {"axis": {"x": "independent", "y": "independent"}}
    }
  ]
}
